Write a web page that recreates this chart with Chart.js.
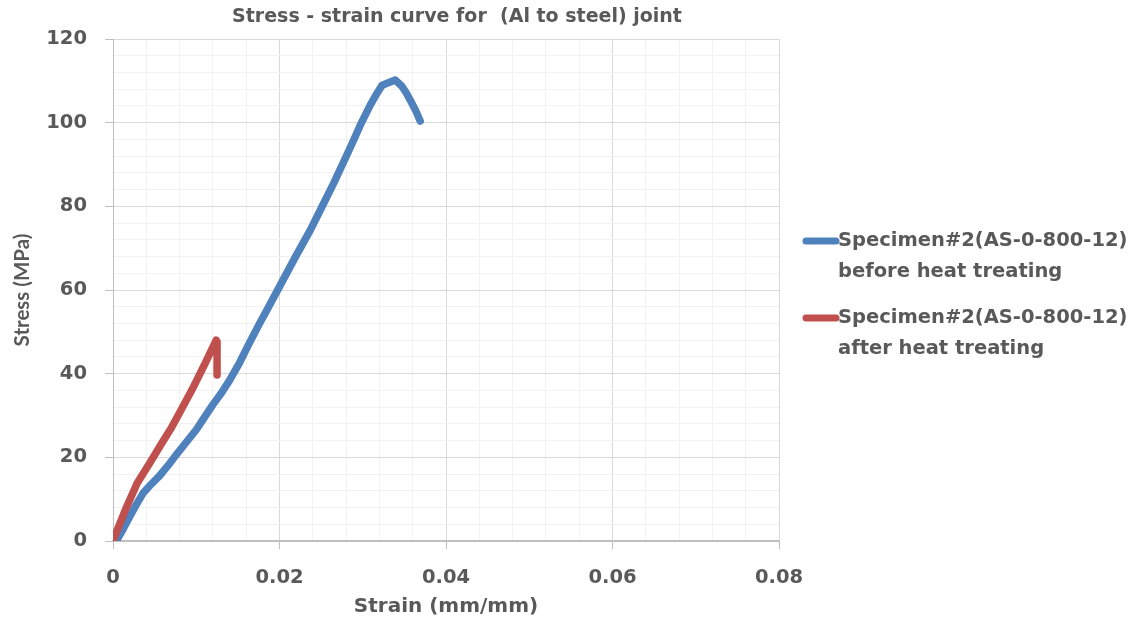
<!DOCTYPE html>
<html>
<head>
<meta charset="utf-8">
<script src="https://cdn.jsdelivr.net/npm/chart.js@4.4.1/dist/chart.umd.min.js"></script>
<style>
  html, body { margin: 0; padding: 0; background: #ffffff; }
  #wrap { width: 1138px; height: 625px; }
</style>
</head>
<body>
<div id="wrap"><canvas id="c" width="1138" height="625"></canvas></div>
<script>
// Labels
const chartTitle = 'Stress - strain curve for  (Al to steel) joint';
const xAxisTitle = 'Strain (mm/mm)';
const yAxisTitle = 'Stress (MPa)';
const seriesBeforeName = ['Specimen#2(AS-0-800-12)', 'before heat treating'];
const seriesAfterName = ['Specimen#2(AS-0-800-12)', 'after heat treating'];

// Specimen before heat treating
const strainBefore = [0.0004, 0.0012, 0.0020, 0.0028, 0.0036, 0.0046, 0.0056, 0.0066, 0.0076, 0.0088,
  0.0100, 0.0110, 0.0120, 0.0130, 0.0140, 0.0152, 0.0163, 0.0175, 0.0187, 0.0200,
  0.0218, 0.0237, 0.0251, 0.0265, 0.0277, 0.0289, 0.0297, 0.0309, 0.0317, 0.0323, 0.0330,
  0.0339, 0.0347, 0.0352, 0.0357, 0.0364, 0.0369];
const stressBefore = [0, 2.8, 5.8, 8.7, 11.4, 13.6, 15.6, 18.0, 20.6, 23.6,
  26.6, 29.6, 32.6, 35.3, 38.4, 42.6, 47.0, 51.6, 56.0, 60.8,
  67.5, 74.3, 79.9, 85.5, 90.6, 95.8, 99.4, 104.2, 107.0, 108.9, 109.5,
  110.2, 108.7, 107.2, 105.4, 102.7, 100.4];

// Specimen after heat treating
const strainAfter = [0.0000, 0.0003, 0.0015, 0.0029, 0.0044, 0.0058, 0.0070, 0.0085, 0.0095, 0.0110, 0.0124, 0.0125, 0.0125];
const stressAfter = [0, 1.6, 7.5, 13.8, 18.6, 23.2, 27.0, 32.5, 36.2, 42.2, 48.0, 47.6, 39.7];

// Axis ranges and tick steps (minor gridlines every step, labels every 5th)
const xRange = [0, 0.08];
const yRange = [0, 120];
const xStep = 0.004;
const yStep = 4;
const labelEvery = 5;

const textColor = '#595959';
const tickFont = { family: 'DejaVu Sans', weight: 'bold', size: 19.5, lineHeight: 1.2 };

const toPoints = (xs, ys) => xs.map((x, i) => ({ x: x, y: ys[i] }));

// Chart heading and two-line legend on the right
const decorations = {
  id: 'decorations',
  afterDraw(chart) {
    const ctx = chart.ctx;
    ctx.save();
    ctx.fillStyle = textColor;
    ctx.textBaseline = 'middle';
    ctx.textAlign = 'center';
    ctx.font = 'bold 19px "DejaVu Sans"';
    ctx.fillText(chartTitle, 457, 17);

    ctx.textAlign = 'left';
    ctx.font = 'bold 19.5px "DejaVu Sans"';
    const rows = [241, 318];
    chart.data.datasets.forEach((ds, i) => {
      const y = rows[i];
      ctx.strokeStyle = ds.borderColor;
      ctx.lineWidth = 7;
      ctx.lineCap = 'round';
      ctx.beginPath();
      ctx.moveTo(806, y);
      ctx.lineTo(836, y);
      ctx.stroke();
      ds.label.forEach((line, k) => ctx.fillText(line, 838, y + k * 31));
    });
    ctx.restore();
  }
};

new Chart(document.getElementById('c'), {
  type: 'scatter',
  data: {
    datasets: [
      {
        label: seriesBeforeName,
        data: toPoints(strainBefore, stressBefore),
        borderColor: '#4f81bd',
        backgroundColor: '#4f81bd',
        showLine: true,
        borderWidth: 7.5,
        pointRadius: 0,
        borderJoinStyle: 'round',
        borderCapStyle: 'round',
        order: 1
      },
      {
        label: seriesAfterName,
        data: toPoints(strainAfter, stressAfter),
        borderColor: '#c0504d',
        backgroundColor: '#c0504d',
        showLine: true,
        borderWidth: 7.5,
        pointRadius: 0,
        borderJoinStyle: 'round',
        borderCapStyle: 'round',
        order: 0
      }
    ]
  },
  options: {
    responsive: false,
    animation: false,
    devicePixelRatio: 1,
    layout: { padding: { left: 0, right: 359, top: 39, bottom: 0 } },
    plugins: {
      legend: { display: false },
      title: { display: false },
      tooltip: { enabled: false }
    },
    scales: {
      x: {
        type: 'linear',
        min: xRange[0],
        max: xRange[1],
        afterFit(scale) { scale.height = 84; },
        ticks: {
          stepSize: xStep,
          autoSkip: false,
          maxRotation: 0,
          padding: 17,
          color: textColor,
          font: tickFont,
          callback: (v, i) => (i % labelEvery === 0 ? String(+v.toFixed(2)) : '')
        },
        grid: {
          color: c => (c.index % labelEvery === 0 ? '#d9d9d9' : '#f2f2f2'),
          tickColor: c => (c.index % labelEvery === 0 ? '#bfbfbf' : 'rgba(0,0,0,0)'),
          tickLength: 8,
          lineWidth: 1
        },
        border: { color: '#bfbfbf', width: 2 },
        title: {
          display: true,
          text: xAxisTitle,
          color: textColor,
          font: { family: 'DejaVu Sans', weight: 'bold', size: 20, lineHeight: 1.2 },
          padding: { top: 0, bottom: 6 }
        }
      },
      y: {
        type: 'linear',
        min: yRange[0],
        max: yRange[1],
        afterFit(scale) { scale.width = 113; },
        ticks: {
          stepSize: yStep,
          autoSkip: false,
          padding: 18,
          color: textColor,
          font: tickFont,
          callback: (v, i) => (i % labelEvery === 0 ? String(v) : '')
        },
        grid: {
          color: c => (c.index % labelEvery === 0 ? '#d9d9d9' : '#f2f2f2'),
          tickColor: c => (c.index % labelEvery === 0 ? '#bfbfbf' : 'rgba(0,0,0,0)'),
          tickLength: 8,
          lineWidth: 1
        },
        border: { color: '#bfbfbf', width: 1 },
        title: {
          display: true,
          text: yAxisTitle,
          color: textColor,
          font: { family: 'Lato', weight: 'bold', size: 20.5, lineHeight: 1.2 },
          padding: { top: 10, bottom: 0 }
        }
      }
    }
  },
  plugins: [decorations]
});
</script>
</body>
</html>
